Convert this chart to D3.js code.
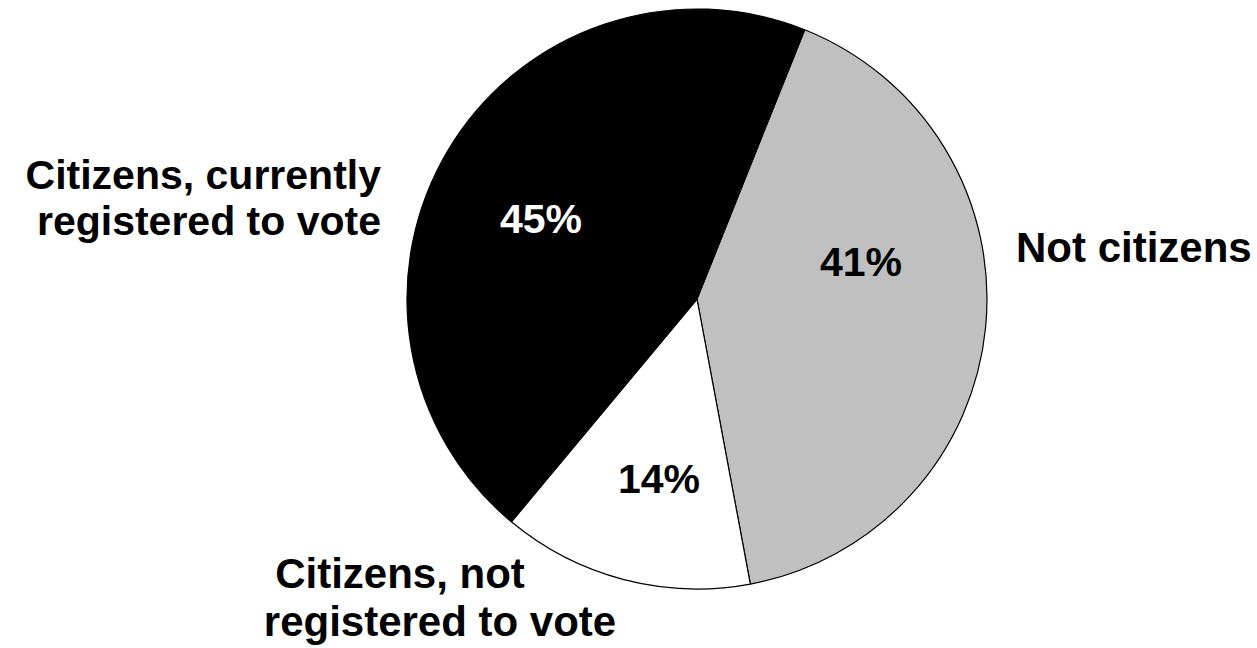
<!DOCTYPE html>
<html>
<head>
<meta charset="utf-8">
<script src="https://cdn.jsdelivr.net/npm/d3@7/dist/d3.min.js"></script>
<style>
  html, body { margin: 0; padding: 0; background: #ffffff; }
  svg { display: block; }
  text { font-family: "Liberation Sans", Arial, Helvetica, sans-serif; font-weight: bold; }
</style>
</head>
<body>
<svg id="chart" width="1257" height="648"></svg>
<script>
// ---- data ----
const categories = ["Not citizens", "Citizens, not registered to vote", "Citizens, currently registered to vote"];
const values = [41, 14, 45];
const valueLabels = ["41%", "14%", "45%"];
const colors = ["#c0c0c0", "#ffffff", "#000000"];
const labelColors = ["#000000", "#000000", "#ffffff"];
const categoryLines = [["Not citizens"], ["Citizens, not", "registered to vote"], ["Citizens, currently", "registered to vote"]];

// ---- layout ----
const cx = 697, cy = 299, R = 290;
const startDeg = 21.8;

const svg = d3.select("#chart");
const g = svg.append("g").attr("transform", `translate(${cx},${cy})`);

const pie = d3.pie().sort(null).value(d => d)
  .startAngle(startDeg * Math.PI / 180)
  .endAngle((startDeg + 360) * Math.PI / 180);
const arcs = pie(values);
const arc = d3.arc().innerRadius(0).outerRadius(R);

g.selectAll("path.slice")
  .data(arcs)
  .join("path")
  .attr("class", "slice")
  .attr("d", arc)
  .attr("fill", (d, i) => colors[i])
  .attr("stroke", "#000")
  .attr("stroke-width", 1.2)
  .attr("stroke-linejoin", "round");

// percentage labels (placed relative to the pie centre)
const pctOffsets = [[164, -23], [-38, 194], [-156, -66]];
g.selectAll("text.pct")
  .data(arcs)
  .join("text")
  .attr("class", "pct")
  .attr("x", (d, i) => pctOffsets[i][0])
  .attr("y", (d, i) => pctOffsets[i][1])
  .attr("text-anchor", "middle")
  .attr("font-size", 41)
  .attr("fill", (d, i) => labelColors[i])
  .text((d, i) => valueLabels[i]);

// category labels
const catPos = [
  { anchor: "start", size: 42, pts: [[1016, 262]] },
  { anchor: "middle", size: 42, pts: [[400, 588], [440, 636]] },
  { anchor: "end", size: 41, pts: [[381, 189], [381, 235]] }
];
categoryLines.forEach((lines, i) => {
  const p = catPos[i];
  const t = svg.append("text")
    .attr("text-anchor", p.anchor)
    .attr("font-size", p.size)
    .attr("fill", "#000");
  lines.forEach((ln, j) => {
    t.append("tspan")
      .attr("x", p.pts[j][0])
      .attr("y", p.pts[j][1])
      .text(ln);
  });
});
</script>
</body>
</html>
